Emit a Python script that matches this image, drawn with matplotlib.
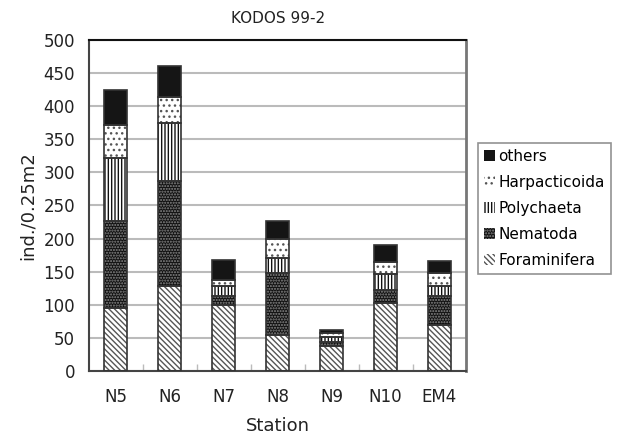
import matplotlib
matplotlib.use("Agg")
import matplotlib.pyplot as plt
from matplotlib.patches import Patch
import numpy as np

stations = ["N5", "N6", "N7", "N8", "N9", "N10", "EM4"]
foraminifera = [95, 128, 100, 54, 38, 103, 69]
nematoda = [131, 159, 13, 94, 6, 20, 44]
polychaeta = [95, 88, 15, 23, 8, 24, 15]
harpacticoida = [50, 38, 10, 29, 5, 18, 20]
others = [53, 48, 29, 27, 5, 25, 18]

groups = [
    ("Foraminifera", foraminifera, "white", "#555555", "\\\\\\\\\\\\"),
    ("Nematoda", nematoda, "#111111", "#8a8a8a", "......"),
    ("Polychaeta", polychaeta, "white", "#111111", "|||||"),
    ("Harpacticoida", harpacticoida, "white", "#555555", "..."),
    ("others", others, "#151515", "#151515", ""),
]

plt.rcParams['font.family'] = ['DejaVu Sans']
plt.rcParams['hatch.linewidth'] = 1.0

fig = plt.figure(figsize=(6.17, 4.38), dpi=100)
ax = fig.add_axes([0.144, 0.153, 0.612, 0.756])

x = np.arange(len(stations))
bottom = np.zeros(len(stations))
handles = []
for name, vals, face, hcol, hatch in groups:
    vals = np.array(vals, dtype=float)
    # hatch layer, then the outline on top
    ax.bar(x, vals, 0.42, bottom=bottom, color=face, edgecolor=hcol, hatch=hatch, linewidth=0, zorder=2)
    ax.bar(x, vals, 0.42, bottom=bottom, fill=False, edgecolor="#333333", linewidth=1.2, zorder=3)
    handles.append(Patch(facecolor=face, edgecolor=hcol, hatch=hatch, linewidth=0))
    bottom += vals

ax.set_xlim(-0.5, len(stations) - 0.5)
ax.set_ylim(0, 500)
ax.set_yticks(range(0, 501, 50))
ax.yaxis.grid(True, color="#bbbbbb", linewidth=1.5, zorder=0)
ax.set_axisbelow(True)
ax.set_xticks(x)
ax.set_xticklabels(stations)
ax.set_xticks(np.arange(0.5, len(stations) - 1, 1.0), minor=True)
ax.tick_params(axis="x", which="major", length=0, pad=12, labelsize=12, colors="#222222")
ax.tick_params(axis="x", which="minor", direction="in", length=5, color="#bbbbbb", width=1)
ax.tick_params(axis="y", length=0, pad=10, labelsize=12, colors="#222222")

ax.spines["top"].set_color("#111111")
ax.spines["top"].set_linewidth(1.5)
ax.spines["right"].set_color("#777777")
ax.spines["right"].set_linewidth(2)
ax.spines["left"].set_color("#444444")
ax.spines["left"].set_linewidth(1.5)
ax.spines["bottom"].set_color("#444444")
ax.spines["bottom"].set_linewidth(1.5)

ax.set_title("KODOS 99-2", fontsize=11, color="#222222", pad=12)
ax.set_xlabel("Station", fontsize=13, color="#222222", labelpad=8)
ax.set_ylabel("ind./0.25m2", fontsize=13, color="#222222", labelpad=5)

leg = fig.legend(handles[::-1], [g[0] for g in groups][::-1], loc="upper left",
                 bbox_to_anchor=(0.774, 0.674), borderaxespad=0, fontsize=11, frameon=True,
                 fancybox=False, edgecolor="#777777", handlelength=0.75, handleheight=0.75,
                 handletextpad=0.2, labelspacing=0.72, borderpad=0.4)
leg.get_frame().set_linewidth(1.2)

fig.savefig("out.png", dpi=100)
